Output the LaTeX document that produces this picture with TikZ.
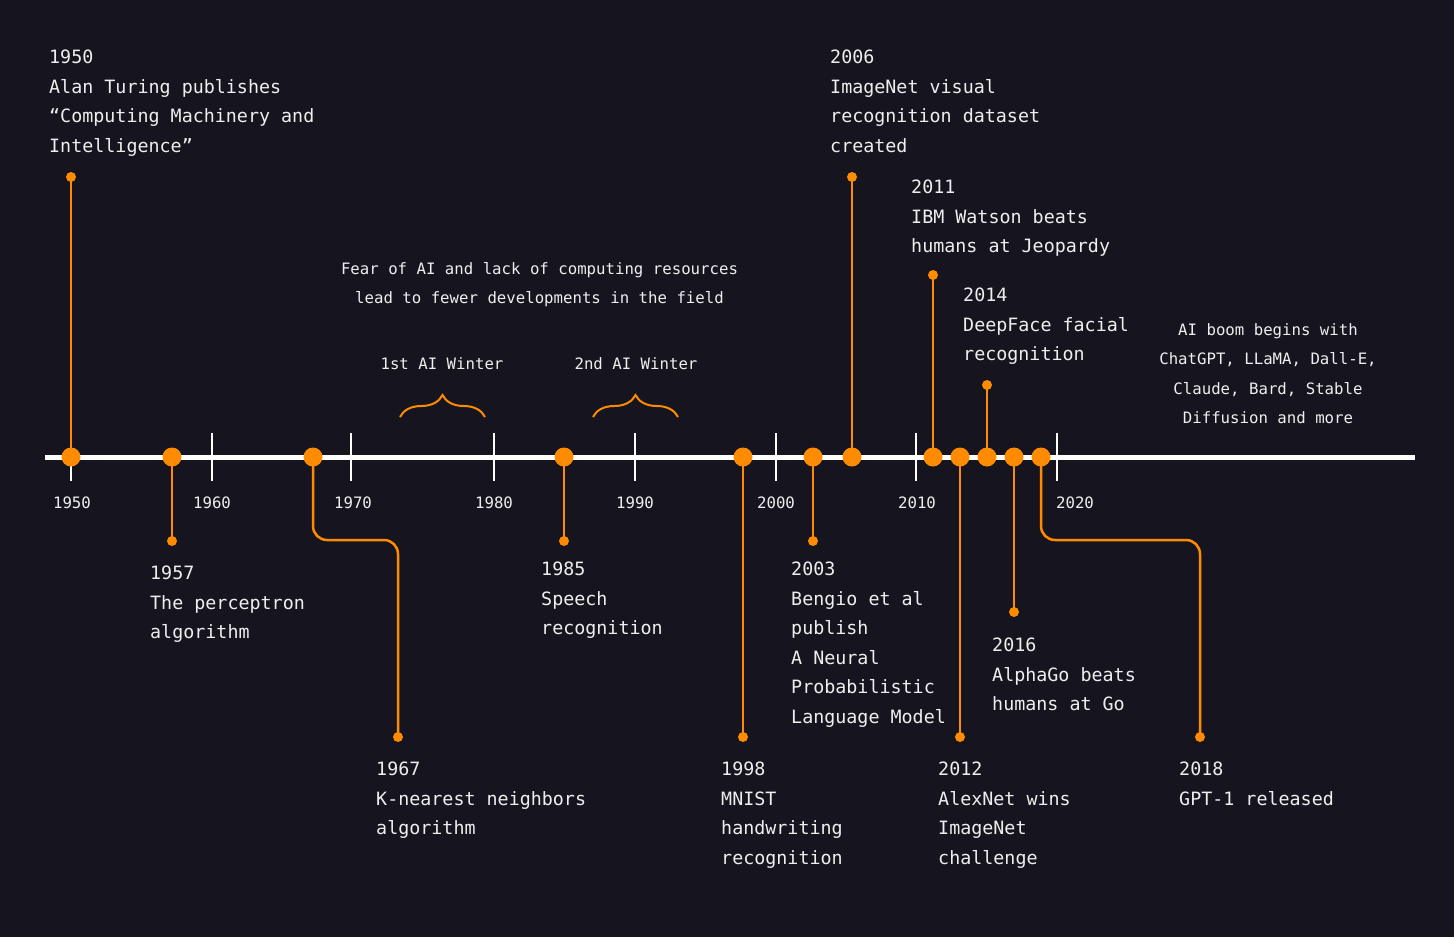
\documentclass[tikz,border=0pt]{standalone}
\usepackage{fontspec}
\setmonofont{DejaVu Sans Mono}
\usetikzlibrary{decorations.pathreplacing}
\definecolor{bg}{HTML}{16151F}
\definecolor{org}{HTML}{FF8C00}
\definecolor{txt}{HTML}{EEEEEE}
\begin{document}
\begin{tikzpicture}[x=1pt,y=-1pt,
 axis/.style={line width=5pt, white},
 tickmark/.style={line width=2pt, white},
 stem/.style={line width=2.5pt, org, rounded corners=14pt},
 bigdot/.style={circle, fill=org, minimum size=19pt, inner sep=0pt},
 smalldot/.style={circle, fill=org, minimum size=10pt, inner sep=0pt},
 evt/.style={anchor=base west, inner sep=0pt, align=left, text=txt, font=\ttfamily\fontsize{18.35}{29.5}\selectfont},
 note/.style={anchor=base, inner sep=0pt, align=center, text=txt, font=\ttfamily\fontsize{15.7}{29.3}\selectfont},
 yr/.style={anchor=base, inner sep=0pt, text=txt, font=\ttfamily\fontsize{15.7}{19}\selectfont},
 brc/.style={org, line width=2pt, decorate, decoration={brace, amplitude=22pt}}]
\fill[bg] (0,0) rectangle (1454,937);
\useasboundingbox (0,0) rectangle (1454,937);

% axis
\coordinate (axL) at (45,457);
\coordinate (axR) at (1415,457);
\draw[axis] (axL) -- (axR);
\foreach \x/\n in {71/t50,212/t60,351/t70,494/t80,635/t90,776/t00,916/t10,1057/t20}{
  \coordinate (\n a) at (\x,433);
  \coordinate (\n b) at (\x,481);
  \draw[tickmark] (\n a) -- (\n b);
}
\node[yr] (y1950) at (72,508.5) {1950};
\node[yr] (y1960) at (212,508.5) {1960};
\node[yr] (y1970) at (353,508.5) {1970};
\node[yr] (y1980) at (494,508.5) {1980};
\node[yr] (y1990) at (635,508.5) {1990};
\node[yr] (y2000) at (776,508.5) {2000};
\node[yr] (y2010) at (917,508.5) {2010};
\node[yr] (y2020) at (1075,508.5) {2020};

% dot positions
\coordinate (p1950) at (71,457);
\coordinate (p1957) at (172,457);
\coordinate (p1967) at (313,457);
\coordinate (p1985) at (564,457);
\coordinate (p1998) at (743,457);
\coordinate (p2003) at (813,457);
\coordinate (p2006) at (852,457);
\coordinate (p2011) at (933,457);
\coordinate (p2012) at (960,457);
\coordinate (p2014) at (987,457);
\coordinate (p2016) at (1014,457);
\coordinate (p2018) at (1041,457);

% stem ends
\coordinate (e1950) at (71,177);
\coordinate (e1957) at (172,541);
\coordinate (e1967) at (398,737);
\coordinate (e1985) at (564,541);
\coordinate (e1998) at (743,737);
\coordinate (e2003) at (813,541);
\coordinate (e2006) at (852,177);
\coordinate (e2011) at (933,275);
\coordinate (e2012) at (960,737);
\coordinate (e2014) at (987,385);
\coordinate (e2016) at (1014,612);
\coordinate (e2018) at (1200,737);

% stems
\foreach \y in {1950,1957,1985,1998,2003,2006,2011,2012,2014,2016}{
  \draw[stem] (p\y) -- (e\y);
}
\draw[stem] (p1967) |- (398,540) -- (e1967);
\draw[stem] (p2018) |- (1200,540) -- (e2018);

% dots
\foreach \y in {1950,1957,1967,1985,1998,2003,2006,2011,2012,2014,2016,2018}{
  \node[bigdot] (d\y) at (p\y) {};
  \node[smalldot] (s\y) at (e\y) {};
}

% event texts (anchored at the baseline of the last line)
\node[evt] (t1950) at (49,152) {1950\\Alan Turing publishes\\“Computing Machinery and\\Intelligence”};
\node[evt] (t1957) at (150,638.5) {1957\\The perceptron\\algorithm};
\node[evt] (t1967) at (376,834.5) {1967\\K-nearest neighbors\\algorithm};
\node[evt] (t1985) at (541,634.5) {1985\\Speech\\recognition};
\node[evt] (t1998) at (721,864) {1998\\MNIST\\handwriting\\recognition};
\node[evt] (t2003) at (791,723) {2003\\Bengio et al\\publish\\A Neural\\Probabilistic\\Language Model};
\node[evt] (t2006) at (830,152) {2006\\ImageNet visual\\recognition dataset\\created};
\node[evt] (t2011) at (911,252.5) {2011\\IBM Watson beats\\humans at Jeopardy};
\node[evt] (t2012) at (938,864) {2012\\AlexNet wins\\ImageNet\\challenge};
\node[evt] (t2014) at (963,360.5) {2014\\DeepFace facial\\recognition};
\node[evt] (t2016) at (992,710.5) {2016\\AlphaGo beats\\humans at Go};
\node[evt] (t2018) at (1179,805) {2018\\GPT-1 released};

% notes
\node[note] (fear) at (539.5,303.8) {Fear of AI and lack of computing resources\\lead to fewer developments in the field};
\node[note] (w1) at (442,369.5) {1st AI Winter};
\node[note] (w2) at (636,369.5) {2nd AI Winter};
\node[note] (boom) at (1268,423.5) {AI boom begins with\\ChatGPT, LLaMA, Dall-E,\\Claude, Bard, Stable\\Diffusion and more};

% braces
\coordinate (b1a) at (400,417);
\coordinate (b1b) at (485,417);
\coordinate (b2a) at (593,417);
\coordinate (b2b) at (678,417);
\draw[brc] (b1a) -- (b1b);
\draw[brc] (b2a) -- (b2b);
\end{tikzpicture}
\end{document}
